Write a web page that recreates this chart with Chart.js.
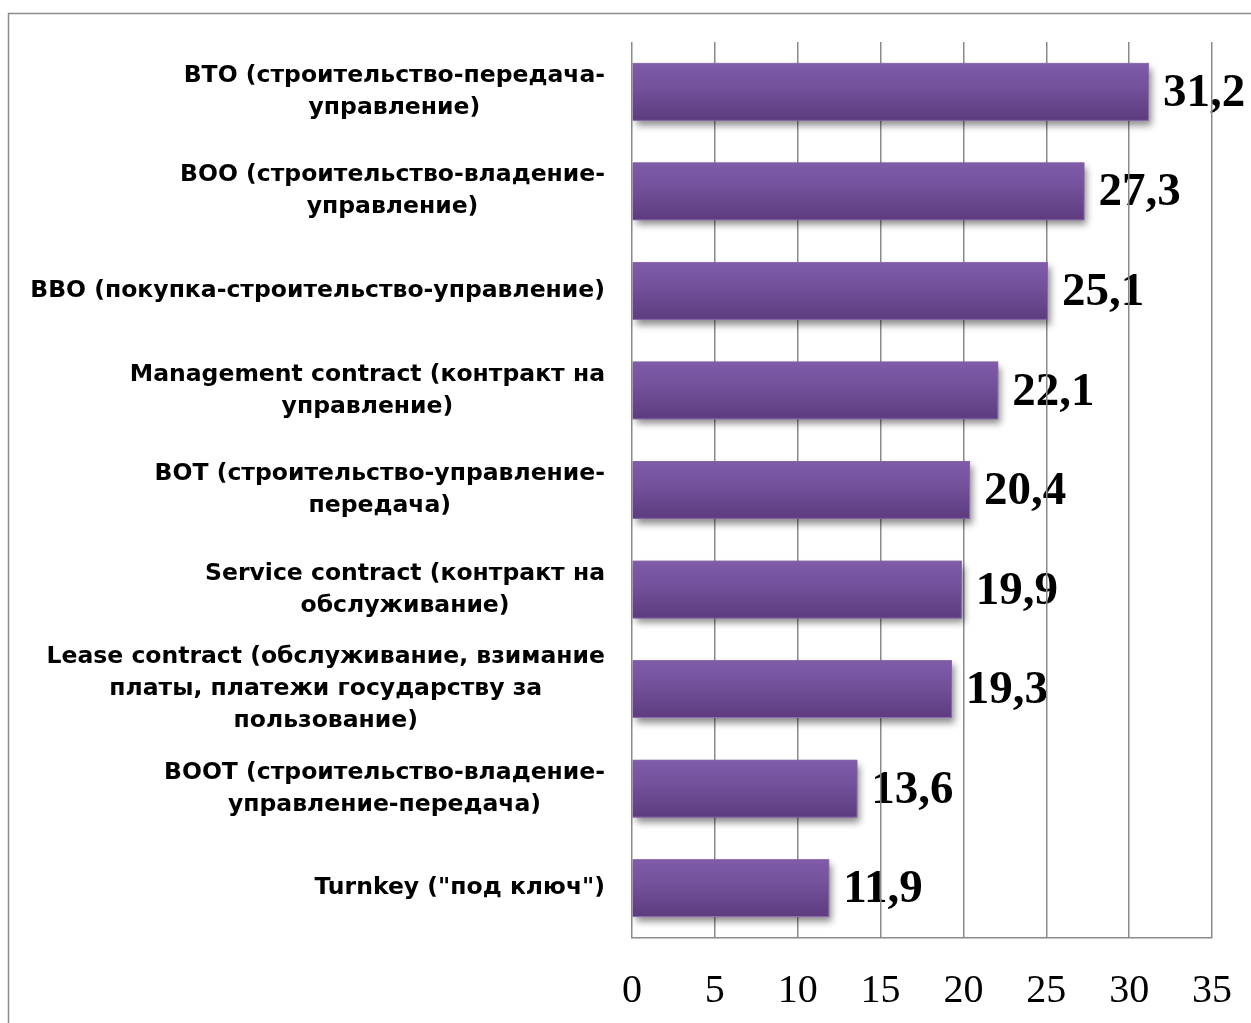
<!DOCTYPE html>
<html>
<head>
<meta charset="utf-8">
<script src="https://cdn.jsdelivr.net/npm/chart.js"></script>
<style>
  html, body { margin: 0; padding: 0; background: #fff; }
  #wrap { width: 1251px; height: 1023px; position: relative; }
</style>
</head>
<body>
<div id="wrap"><canvas id="pppChart"></canvas></div>
<script>
// Формы ГЧП, %
const categories = [
  ['BTO (строительство-передача-', 'управление)'],
  ['BOO (строительство-владение-', 'управление)'],
  ['BBO (покупка-строительство-управление)'],
  ['Management contract (контракт на', 'управление)'],
  ['BOT (строительство-управление-', 'передача)'],
  ['Service contract (контракт на', 'обслуживание)'],
  ['Lease contract (обслуживание, взимание', 'платы, платежи государству за', 'пользование)'],
  ['BOOT (строительство-владение-', 'управление-передача)'],
  ['Turnkey ("под ключ")']
];
const shares = [31.2, 27.3, 25.1, 22.1, 20.4, 19.9, 19.3, 13.6, 11.9];
const xTicks = [0, 5, 10, 15, 20, 25, 30, 35];

const BAR_PCT = 0.58;
const LABEL_FONT = 'bold 23.5px "DejaVu Sans", sans-serif';
const VALUE_FONT = 'bold 47px "Liberation Serif", "Times New Roman", serif';

// рамка вокруг диаграммы + подписи категорий и значений
const decorPlugin = {
  id: 'decor',
  beforeDraw(chart) {
    const ctx = chart.ctx;
    ctx.save();
    ctx.strokeStyle = '#8c8c8c';
    ctx.lineWidth = 1.5;
    ctx.beginPath();
    ctx.moveTo(8.5, 1023);
    ctx.lineTo(8.5, 13.5);
    ctx.lineTo(1251, 13.5);
    ctx.stroke();

    // значения справа от столбцов (под линиями сетки)
    const meta = chart.getDatasetMeta(0);
    ctx.fillStyle = '#000';
    ctx.font = VALUE_FONT;
    ctx.textAlign = 'left';
    ctx.textBaseline = 'middle';
    meta.data.forEach((bar, i) => {
      ctx.fillText(String(shares[i]).replace('.', ','), bar.x + 14, bar.y + 2);
    });

    // подписи категорий: блок выровнен вправо, строки по центру блока
    const yScale = chart.scales.y;
    ctx.font = LABEL_FONT;
    ctx.textAlign = 'center';
    const lineH = 32;
    const rightEdge = 605;
    categories.forEach((lines, i) => {
      const cy = yScale.getPixelForTick(i);
      const w = Math.max(...lines.map(l => ctx.measureText(l).width));
      const cx = rightEdge - w / 2;
      const top = cy - (lines.length - 1) * lineH / 2;
      lines.forEach((l, k) => ctx.fillText(l, cx, top + k * lineH));
    });
    ctx.restore();
  },
  // мягкая тень под столбцами
  beforeDatasetsDraw(chart) {
    const ctx = chart.ctx;
    ctx.save();
    ctx.shadowColor = 'rgba(0,0,0,0.45)';
    ctx.shadowBlur = 7;
    ctx.shadowOffsetX = 3;
    ctx.shadowOffsetY = 5;
    ctx.fillStyle = '#6e4c95';
    chart.getDatasetMeta(0).data.forEach(bar => {
      ctx.fillRect(bar.base, bar.y - bar.height / 2, bar.x - bar.base, bar.height);
    });
    ctx.restore();
  }
};

function barGradient(context) {
  const chart = context.chart;
  const y = chart.scales && chart.scales.y;
  if (!y || !chart.chartArea || context.dataIndex === undefined) return '#6e4c95';
  const c = y.getPixelForValue(context.dataIndex);
  const half = (y.height / categories.length) * BAR_PCT / 2;
  const g = chart.ctx.createLinearGradient(0, c - half, 0, c + half);
  g.addColorStop(0, '#805ca9');
  g.addColorStop(0.45, '#72509a');
  g.addColorStop(1, '#5c3c7e');
  return g;
}

new Chart(document.getElementById('pppChart'), {
  type: 'bar',
  data: {
    labels: categories,
    datasets: [{
      data: shares,
      backgroundColor: barGradient,
      borderColor: '#8b6cb1',
      borderWidth: 1,
      barPercentage: BAR_PCT,
      categoryPercentage: 1
    }]
  },
  options: {
    indexAxis: 'y',
    responsive: true,
    maintainAspectRatio: false,
    animation: false,
    devicePixelRatio: 1,
    layout: { padding: { top: 42, right: 39, bottom: 0, left: 0 } },
    plugins: {
      legend: { display: false },
      tooltip: { enabled: false }
    },
    scales: {
      x: {
        min: 0,
        max: 35,
        afterBuildTicks(scale) {
          scale.ticks = xTicks.map(v => ({ value: v }));
        },
        afterFit(scale) {
          scale.height = 85;
          scale.paddingLeft = 0;
          scale.paddingRight = 0;
        },
        grid: { color: '#8a8a8a', lineWidth: 1.5, drawTicks: false },
        border: { color: '#8a8a8a', width: 1.5 },
        ticks: {
          padding: 29,
          color: '#000',
          font: { family: '"Liberation Serif", "Times New Roman", serif', size: 40 }
        }
      },
      y: {
        afterFit(scale) { scale.width = 632; },
        grid: { display: false },
        border: { display: false },
        ticks: { display: false }
      }
    }
  },
  plugins: [decorPlugin]
});
</script>
</body>
</html>
